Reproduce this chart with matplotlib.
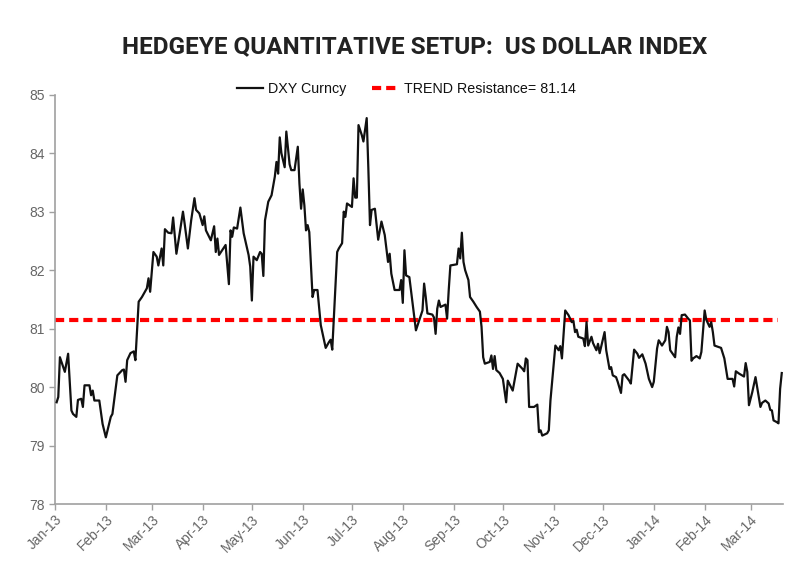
import pandas as pd
import numpy as np
import matplotlib.pyplot as plt
import matplotlib.dates as mdates

# DXY close (day = days since 1 Jan 2013)
day_num = [1, 2, 3, 6, 8, 10, 11, 13, 14, 16, 17, 18, 21, 22, 23, 24, 27, 29, 31, 34,
           35, 38, 41, 42, 43, 44, 46, 48, 49, 51, 53, 56, 57, 58, 60, 62, 63, 65, 66, 67,
           69, 71, 72, 74, 76, 78, 79, 81, 83, 85, 86, 88, 90, 91, 92, 95, 97, 98, 99, 100,
           104, 106, 107, 108, 109, 111, 113, 115, 118, 119, 120, 121, 123, 125, 126, 127, 128, 130, 132, 134,
           135, 136, 137, 138, 140, 141, 143, 144, 146, 148, 149, 150, 151, 152, 153, 154, 155, 157, 158, 160,
           162, 165, 167, 168, 169, 172, 173, 175, 176, 177, 178, 181, 182, 183, 184, 185, 187, 188, 190, 191,
           192, 193, 195, 197, 199, 201, 203, 204, 205, 207, 210, 211, 212, 213, 214, 216, 220, 222, 224, 225,
           226, 227, 230, 231, 232, 233, 234, 235, 238, 239, 240, 241, 245, 246, 247, 248, 249, 250, 252, 253,
           255, 257, 259, 260, 261, 262, 265, 266, 267, 268, 269, 271, 273, 275, 276, 279, 282, 285, 286, 287,
           288, 289, 292, 294, 295, 296, 297, 300, 301, 302, 305, 307, 308, 309, 311, 313, 314, 315, 316, 317,
           318, 319, 322, 323, 324, 325, 327, 328, 330, 331, 332, 335, 336, 338, 339, 340, 342, 343, 345, 346,
           347, 350, 351, 353, 355, 356, 358, 360, 362, 364, 365, 367, 368, 370, 372, 373, 374, 375, 378, 379,
           380, 381, 382, 384, 386, 387, 388, 389, 391, 393, 394, 396, 397, 399, 400, 401, 402, 404, 406, 408,
           410, 412, 413, 414, 415, 417, 420, 421, 422, 423, 425, 427, 428, 430, 431, 433, 435, 436, 437, 438,
           440, 441, 442, 443]
dxy = [79.74, 79.83, 80.51, 80.26, 80.57, 79.60, 79.54, 79.49, 79.78, 79.80, 79.66, 80.03, 80.03, 79.86, 79.94, 79.77, 79.77, 79.37, 79.14, 79.49,
       79.54, 80.20, 80.29, 80.30, 80.09, 80.46, 80.58, 80.61, 80.46, 81.46, 81.54, 81.69, 81.86, 81.63, 82.31, 82.23, 82.08, 82.37, 82.08, 82.70,
       82.64, 82.63, 82.90, 82.28, 82.63, 83.00, 82.80, 82.37, 82.85, 83.23, 83.03, 82.97, 82.77, 82.92, 82.68, 82.51, 82.75, 82.31, 82.54, 82.26,
       82.43, 81.76, 82.68, 82.57, 82.73, 82.71, 83.07, 82.63, 82.26, 82.06, 81.48, 82.23, 82.17, 82.31, 82.28, 81.90, 82.85, 83.17, 83.28, 83.60,
       83.85, 83.65, 84.27, 84.00, 83.76, 84.37, 83.81, 83.71, 83.71, 84.11, 83.48, 83.05, 83.38, 83.11, 82.68, 82.77, 82.65, 81.54, 81.66, 81.66,
       81.06, 80.67, 80.77, 80.81, 80.64, 82.31, 82.37, 82.46, 83.00, 82.91, 83.14, 83.08, 83.57, 83.24, 83.24, 84.48, 84.31, 84.20, 84.60, 83.74,
       82.77, 83.03, 83.05, 82.52, 82.83, 82.60, 82.14, 82.28, 81.94, 81.66, 81.66, 81.83, 81.44, 82.34, 81.91, 81.88, 80.97, 81.14, 81.31, 81.77,
       81.54, 81.26, 81.24, 81.19, 80.91, 81.34, 81.48, 81.37, 81.41, 81.17, 81.66, 82.08, 82.10, 82.37, 82.20, 82.64, 82.14, 82.00, 81.83, 81.54,
       81.46, 81.37, 81.29, 81.03, 80.51, 80.40, 80.43, 80.54, 80.31, 80.53, 80.29, 80.24, 80.14, 79.74, 80.11, 79.94, 80.40, 80.31, 80.27, 80.49,
       80.46, 79.66, 79.66, 79.70, 79.23, 79.26, 79.17, 79.21, 79.26, 79.77, 80.71, 80.63, 80.70, 80.49, 81.31, 81.23, 81.17, 81.11, 81.13, 80.94,
       80.98, 80.86, 80.83, 80.70, 81.11, 80.71, 80.86, 80.75, 80.63, 80.74, 80.58, 80.94, 80.63, 80.31, 80.34, 80.20, 80.17, 80.09, 79.90, 80.20,
       80.22, 80.11, 80.06, 80.64, 80.57, 80.50, 80.56, 80.40, 80.14, 80.00, 80.09, 80.66, 80.80, 80.71, 80.80, 81.03, 80.94, 80.63, 80.51, 80.86,
       81.02, 80.91, 81.23, 81.24, 81.17, 81.14, 80.45, 80.49, 80.53, 80.49, 80.60, 81.31, 81.15, 81.03, 81.11, 80.94, 80.71, 80.69, 80.67, 80.49,
       80.14, 80.14, 80.14, 80.01, 80.27, 80.23, 80.18, 80.41, 80.26, 79.69, 79.91, 80.17, 80.00, 79.66, 79.73, 79.77, 79.72, 79.61, 79.60, 79.43,
       79.40, 79.38, 79.97, 80.24]

trend_level = 81.14
trend_span = ['2013-01-01', '2014-03-18']
x_range = ['2013-01-01', '2014-03-21']
month_ticks = pd.date_range('2013-01-01', '2014-03-01', freq='MS')

dates = pd.Timestamp('2013-01-01') + pd.to_timedelta(day_num, unit='D')

plt.rcParams['font.family'] = ['Liberation Sans', 'DejaVu Sans']

fig = plt.figure(figsize=(8, 5.81), dpi=100)
ax = fig.add_axes([0.06875, 0.1325, 0.9105, 0.7045])

ax.plot(dates, dxy, color='#111111', lw=1.6, label='DXY Curncy', zorder=3)
ax.plot(pd.to_datetime(trend_span), [trend_level, trend_level], color='#ff0000', lw=3,
        dashes=(2.2, 1.2), label='TREND Resistance= 81.14', zorder=2)

ax.set_ylim(78, 85)
ax.set_xlim(pd.to_datetime(x_range[0]), pd.to_datetime(x_range[1]))
ax.set_yticks(range(78, 86))
ax.set_xticks(month_ticks)
ax.xaxis.set_major_formatter(mdates.DateFormatter('%b-%y'))
plt.setp(ax.get_xticklabels(), rotation=45, ha='right', rotation_mode='anchor')

for s in ['top', 'right']:
    ax.spines[s].set_visible(False)
for s in ['left', 'bottom']:
    ax.spines[s].set_color('#a0a0a0')
    ax.spines[s].set_linewidth(1.2)
ax.tick_params(colors='#a0a0a0', labelcolor='#666666', labelsize=10, length=4, width=1)
ax.tick_params(axis='x', pad=2)

fig.text(0.518, 0.92, 'HEDGEYE QUANTITATIVE SETUP:  US DOLLAR INDEX', ha='center', va='center',
         fontsize=17.5, fontweight='bold', color='#222222',
         family=['Roboto', 'DejaVu Sans'])

leg = fig.legend(loc='center', bbox_to_anchor=(0.508, 0.846), ncol=2, frameon=True,
                 fontsize=10.3, handlelength=1.8, columnspacing=1.8, handletextpad=0.4,
                 borderpad=0.5)
leg.get_frame().set_edgecolor('none')
leg.get_frame().set_facecolor('white')
for t in leg.get_texts():
    t.set_color('#111111')

fig.savefig('out.png', dpi=100)
